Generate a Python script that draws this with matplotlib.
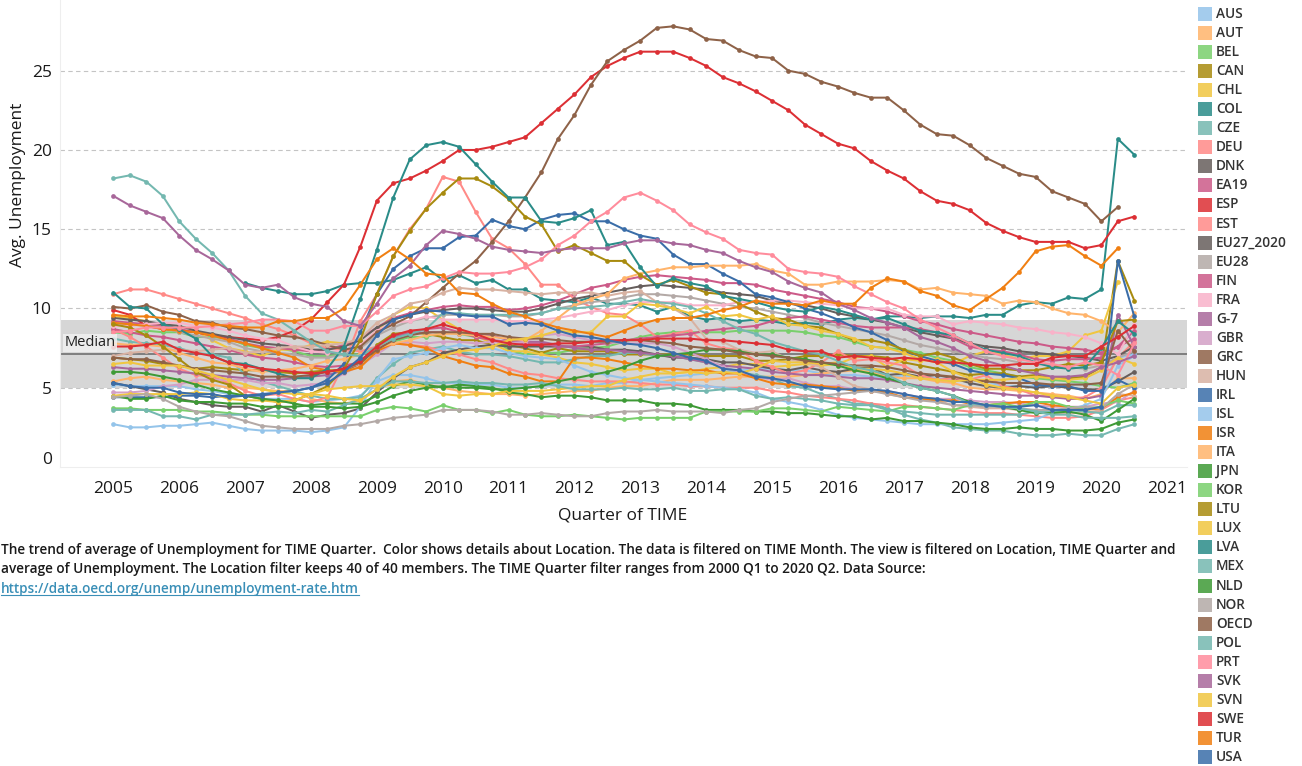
import numpy as np
import matplotlib
matplotlib.use("Agg")
import matplotlib.pyplot as plt
import matplotlib.transforms as mtransforms
from matplotlib.patches import Rectangle
from matplotlib.lines import Line2D

nan = float("nan")

# ---------------- data (quarterly, 2005 Q1 .. 2020 Q3) ----------------
years = list(range(2005, 2021))
quarter_index = [1, 2, 3, 4]
AUS = [5.2,5.1,5.1,5.1, 5.1,4.9,4.8,4.6, 4.5,4.3,4.3,4.3, 4.1,4.2,4.3,4.5, 5.4,5.8,5.8,5.6, 5.3,5.3,5.2,5.2,
       5.0,5.0,5.1,5.2, 5.2,5.1,5.3,5.3, 5.5,5.6,5.7,5.8, 5.9,6.0,6.1,6.2, 6.2,6.1,6.1,5.9, 5.8,5.8,5.7,5.6,
       5.8,5.6,5.6,5.5, 5.5,5.4,5.1,5.1, 5.1,5.2,5.2,5.2, 5.2,6.9,7.1]
AUT = [5.4,5.6,5.7,5.5, 5.4,5.3,5.2,5.0, 5.0,4.9,4.8,4.8, 4.3,4.1,4.0,4.2, 4.9,5.4,5.5,5.2, 5.0,4.8,4.7,4.6,
       4.6,4.5,4.6,4.7, 4.8,4.8,5.0,5.1, 5.1,5.3,5.5,5.5, 5.5,5.6,5.7,5.7, 5.7,5.7,5.8,5.9, 6.0,6.1,6.0,5.7,
       5.6,5.6,5.4,5.3, 5.0,4.9,4.9,4.8, 4.7,4.6,4.5,4.3, 4.6,5.6,5.6]
BEL = [8.5,8.4,8.6,8.5, 8.5,8.2,8.2,8.1, 7.7,7.5,7.5,7.3, 7.0,7.0,7.1,7.1, 7.5,7.9,8.2,8.2, 8.5,8.4,8.2,8.1,
       7.4,7.1,7.2,7.2, 7.4,7.5,7.6,7.9, 8.2,8.4,8.5,8.5, 8.5,8.5,8.6,8.6, 8.6,8.6,8.5,8.3, 8.2,7.9,7.6,7.5,
       7.4,7.2,6.9,6.7, 6.3,6.1,5.9,5.7, 5.6,5.5,5.4,5.3, 5.1,5.0,5.3]
CAN = [6.9,6.8,6.7,6.5, 6.4,6.2,6.3,6.2, 6.1,6.1,6.0,5.9, 6.0,6.1,6.1,6.4, 7.7,8.4,8.5,8.4, 8.2,8.0,8.0,7.7,
       7.7,7.5,7.2,7.5, 7.3,7.3,7.3,7.1, 7.1,7.1,7.1,7.1, 7.0,7.0,7.0,6.7, 6.7,6.8,7.0,7.0, 7.1,7.0,7.0,6.9,
       6.6,6.4,6.2,6.0, 5.8,5.9,5.9,5.7, 5.8,5.6,5.6,5.7, 6.3,13.0,10.5]
CHL = [9.5,9.4,9.2,8.9, 8.5,8.6,8.0,7.5, 7.3,7.0,7.4,7.4, 7.7,7.9,7.8,7.6, 8.6,9.6,10.1,10.0, 9.3,8.7,8.3,7.8,
       7.3,7.3,7.1,6.9, 6.6,6.5,6.3,6.1, 6.2,6.2,5.9,6.0, 6.2,6.3,6.5,6.5, 6.3,6.4,6.5,6.4, 6.5,6.9,7.0,6.3,
       6.8,6.7,6.8,6.5, 7.0,7.3,7.1,6.8, 7.0,7.0,7.3,8.3, 8.6,11.7,nan]
COL = [nan,nan,nan,nan, nan,nan,nan,nan, 11.6,11.3,11.1,10.9, 10.9,11.1,11.5,11.6, 11.6,11.8,12.2,12.6, 11.8,12.1,11.6,11.8,
       11.2,11.2,10.6,10.5, 10.4,10.7,10.3,10.3, 10.2,9.8,10.1,9.5, 9.3,9.4,9.2,9.3, 9.2,9.0,9.1,9.0, 9.3,9.4,9.3,9.5,
       9.5,9.4,9.5,9.5, 9.4,9.6,9.6,10.2, 10.4,10.3,10.7,10.6, 11.2,20.7,19.7]
CZE = [8.1,7.9,7.8,7.7, 7.5,7.2,7.1,6.9, 5.8,5.4,5.1,4.8, 4.5,4.3,4.3,4.4, 5.6,6.5,7.2,7.4, 7.6,7.3,7.1,7.1,
       7.0,6.8,6.6,6.6, 6.8,7.0,7.0,7.2, 7.2,7.0,7.0,6.8, 6.6,6.3,6.0,5.8, 5.6,5.1,5.0,4.6, 4.3,4.0,4.0,3.7,
       3.3,3.0,2.8,2.5, 2.4,2.3,2.3,2.1, 2.0,2.0,2.1,2.0, 2.0,2.4,2.7]
DEU = [10.9,11.2,11.2,10.9, 10.6,10.3,10.0,9.7, 9.4,9.0,8.7,8.3, 7.8,7.5,7.4,7.3, 7.6,7.8,7.7,7.6, 7.3,7.1,6.8,6.6,
       6.2,5.9,5.8,5.6, 5.5,5.4,5.4,5.4, 5.3,5.2,5.2,5.1, 5.1,5.0,5.0,5.0, 4.8,4.7,4.5,4.4, 4.3,4.2,4.0,3.9,
       3.9,3.8,3.7,3.6, 3.5,3.4,3.4,3.3, 3.2,3.1,3.1,3.2, 3.6,4.2,4.4]
DNK = [5.3,5.1,4.9,4.7, 4.3,4.1,3.9,3.8, 3.8,3.5,3.9,3.5, 3.1,3.3,3.4,3.7, 4.7,5.6,6.3,6.6, 7.2,7.4,7.6,7.7,
       7.6,7.6,7.6,7.6, 7.6,7.6,7.4,7.4, 7.3,7.1,6.9,6.9, 6.8,6.6,6.6,6.4, 6.2,6.1,6.3,6.1, 6.0,6.2,6.3,5.8,
       5.9,5.7,5.8,5.6, 5.3,5.1,5.0,5.1, 5.0,5.1,5.0,4.9, 4.9,5.4,6.0]
EA19 = [9.2,9.1,9.0,8.9, 8.7,8.5,8.3,8.1, 7.8,7.6,7.5,7.4, 7.3,7.4,7.7,8.1, 8.8,9.4,9.7,9.9, 10.1,10.2,10.1,10.1,
        9.9,10.0,10.2,10.5, 10.9,11.3,11.5,11.8, 12.0,12.1,12.0,11.9, 11.8,11.6,11.6,11.5, 11.2,11.0,10.8,10.6, 10.4,10.1,10.0,9.8,
        9.5,9.2,9.0,8.7, 8.5,8.3,8.1,7.9, 7.8,7.6,7.5,7.4, 7.2,7.6,8.6]
ESP = [9.9,9.6,8.9,8.7, 8.6,8.5,8.3,8.2, 8.1,8.0,8.2,8.6, 9.3,10.4,11.5,13.9, 16.8,17.9,18.2,18.7, 19.3,20.0,20.0,20.2,
       20.5,20.8,21.7,22.6, 23.5,24.6,25.3,25.8, 26.2,26.2,26.2,25.8, 25.3,24.6,24.2,23.7, 23.1,22.5,21.6,21.0, 20.4,20.1,19.3,18.7,
       18.2,17.4,16.8,16.6, 16.2,15.4,14.9,14.5, 14.2,14.2,14.2,13.8, 14.0,15.5,15.8]
EST = [8.7,8.2,7.6,6.9, 6.2,5.8,5.7,5.3, 4.8,4.5,4.6,4.3, 4.1,4.4,6.5,9.2, 10.9,13.3,15.0,16.3, 18.3,18.0,16.1,14.4,
       13.8,12.8,11.5,11.5, 10.6,10.1,9.7,9.6, 9.0,8.2,8.4,8.6, 7.8,7.5,7.4,6.7, 6.3,5.9,6.1,6.6, 7.3,6.7,6.8,6.6,
       6.4,5.8,5.5,5.6, 5.5,5.8,5.1,4.9, 4.5,4.5,4.3,4.4, 5.0,6.9,7.9]
EU27_2020 = [9.4,9.3,9.2,9.0, 8.9,8.6,8.4,8.2, 8.0,7.8,7.7,7.6, 7.4,7.4,7.6,8.0, 8.8,9.3,9.6,9.8, 9.9,10.0,10.0,9.9,
             9.8,9.8,10.0,10.3, 10.6,10.8,11.0,11.2, 11.4,11.5,11.4,11.3, 11.2,11.0,10.9,10.8, 10.5,10.3,10.2,10.0, 9.7,9.5,9.3,9.1,
             8.8,8.5,8.3,8.1, 7.8,7.6,7.5,7.3, 7.2,7.1,7.0,6.9, 6.7,7.0,7.6]
EU28 = [9.1,9.0,8.9,8.8, 8.5,8.3,8.1,7.9, 7.5,7.3,7.2,7.1, 6.9,6.9,7.1,7.5, 8.3,8.8,9.2,9.4, 9.6,9.6,9.6,9.6,
        9.5,9.5,9.7,10.0, 10.2,10.4,10.5,10.7, 10.9,10.9,10.8,10.7, 10.5,10.3,10.1,10.0, 9.8,9.6,9.4,9.1, 8.9,8.7,8.5,8.3,
        8.0,7.7,7.5,7.3, 7.1,6.9,6.8,6.6, 6.5,6.4,6.3,6.2, 6.4,6.9,7.3]
FIN = [8.7,8.5,8.3,8.2, 8.0,7.8,7.6,7.4, 7.1,6.9,6.8,6.6, 6.4,6.3,6.4,6.6, 7.6,8.2,8.5,8.7, 8.8,8.5,8.2,8.0,
       7.9,7.8,7.8,7.6, 7.6,7.7,7.8,8.0, 8.1,8.2,8.3,8.4, 8.6,8.7,8.8,8.9, 9.2,9.4,9.5,9.3, 9.1,8.9,8.8,8.8,
       8.8,8.7,8.5,8.1, 7.6,7.4,7.3,7.1, 6.8,6.7,6.8,6.8, 6.9,7.6,8.1]
FRA = [8.9,8.9,9.0,9.1, 9.1,8.9,8.8,8.6, 8.3,8.1,8.0,7.6, 7.3,7.2,7.4,7.7, 8.6,9.1,9.2,9.5, 9.3,9.3,9.3,9.3,
       9.2,9.2,9.3,9.4, 9.6,9.8,9.9,10.2, 10.4,10.4,10.4,10.2, 10.2,10.2,10.4,10.4, 10.5,10.5,10.4,10.3, 10.2,10.0,10.0,10.0,
       9.6,9.5,9.5,9.0, 9.2,9.1,9.0,8.8, 8.7,8.5,8.4,8.2, 7.8,7.1,9.0]
G7 = [6.3,6.2,6.2,6.1, 6.0,5.9,5.8,5.7, 5.6,5.5,5.5,5.6, 5.7,5.8,6.1,6.6, 7.6,8.2,8.4,8.5, 8.5,8.4,8.4,8.3,
      8.0,7.9,7.9,7.7, 7.5,7.4,7.4,7.3, 7.2,7.1,7.0,6.8, 6.6,6.4,6.3,6.2, 6.0,5.9,5.8,5.8, 5.7,5.6,5.6,5.5,
      5.3,5.1,5.0,4.9, 4.8,4.7,4.6,4.5, 4.5,4.4,4.3,4.3, 4.5,9.6,7.6]
GBR = [4.7,4.7,4.8,5.1, 5.2,5.5,5.5,5.5, 5.5,5.3,5.3,5.1, 5.2,5.3,5.9,6.4, 7.1,7.8,7.9,7.8, 7.9,7.9,7.8,7.9,
       7.8,7.9,8.3,8.4, 8.2,8.0,7.9,7.8, 7.8,7.8,7.6,7.2, 6.8,6.3,6.0,5.7, 5.5,5.6,5.3,5.1, 5.1,4.9,4.8,4.8,
       4.6,4.4,4.3,4.3, 4.2,4.1,4.1,4.0, 3.9,3.8,3.8,3.8, 4.0,4.1,4.8]
GRC = [10.1,10.0,10.2,9.8, 9.6,9.2,9.1,8.8, 8.7,8.5,8.3,8.2, 8.0,7.7,7.4,7.6, 8.5,9.0,9.5,10.4, 11.3,12.2,13.0,14.2,
       15.5,17.0,18.6,20.7, 22.2,24.1,25.6,26.3, 26.9,27.7,27.8,27.6, 27.0,26.9,26.3,25.9, 25.8,25.0,24.8,24.3, 24.0,23.6,23.3,23.3,
       22.5,21.6,21.0,20.9, 20.3,19.5,19.0,18.5, 18.3,17.4,17.0,16.6, 15.5,16.4,nan]
HUN = [7.0,7.2,7.3,7.4, 7.4,7.3,7.4,7.5, 7.2,7.3,7.5,7.6, 7.6,7.7,7.8,8.1, 9.1,9.6,10.3,10.5, 11.0,11.3,11.2,11.2,
       11.1,11.0,10.9,11.0, 11.0,11.0,10.8,11.0, 11.1,10.4,10.0,9.4, 8.1,7.9,7.4,7.2, 7.3,6.8,6.6,6.3, 5.7,5.1,4.9,4.6,
       4.4,4.3,4.2,3.9, 3.8,3.7,3.7,3.6, 3.5,3.4,3.4,3.4, 3.6,4.6,4.5]
IRL = [4.4,4.4,4.4,4.4, 4.5,4.5,4.4,4.5, 4.5,4.6,4.7,4.8, 5.0,5.5,6.5,8.5, 10.9,12.5,13.3,13.8, 13.8,14.5,14.6,15.6,
       15.2,15.0,15.6,15.9, 16.0,15.5,15.5,15.0, 14.6,14.4,13.4,12.8, 12.8,12.2,11.7,10.9, 10.7,10.4,10.0,9.7, 9.3,8.8,8.5,8.0,
       7.3,7.0,6.7,6.5, 6.1,5.9,5.8,5.6, 5.2,5.1,5.1,4.8, 4.8,5.5,5.0]
ISL = [2.7,2.5,2.5,2.6, 2.6,2.7,2.8,2.6, 2.4,2.3,2.3,2.3, 2.2,2.3,2.5,3.8, 5.5,6.8,7.0,7.2, 7.5,7.7,7.5,7.5,
       7.2,7.0,6.9,6.8, 6.4,6.0,5.8,5.6, 5.5,5.4,5.3,5.2, 5.1,5.0,4.9,4.7, 4.3,4.1,3.9,3.6, 3.3,3.1,3.0,2.9,
       2.8,2.7,2.7,2.7, 2.7,2.7,2.8,2.9, 3.0,3.4,3.6,3.9, 4.3,6.4,7.0]
ISR = [9.1,9.0,8.9,8.7, 8.6,8.5,8.3,8.0, 7.8,7.5,7.2,6.9, 6.3,6.1,6.0,6.3, 7.3,7.8,7.7,7.5, 7.0,6.7,6.4,6.3,
       5.9,5.7,5.4,5.4, 6.9,6.9,6.8,6.6, 6.4,6.2,6.2,6.1, 6.1,5.9,5.9,5.6, 5.3,5.2,5.2,5.1, 5.0,4.8,4.8,4.7,
       4.4,4.3,4.2,4.2, 4.0,3.9,4.0,4.1, 4.1,3.9,3.8,3.6, 3.7,4.4,4.7]
ITA = [7.8,7.7,7.7,7.6, 7.2,6.9,6.6,6.5, 6.2,6.0,6.1,6.2, 6.4,6.7,6.8,7.1, 7.5,7.8,8.0,8.3, 8.4,8.4,8.3,8.2,
       8.1,8.0,8.6,9.4, 10.2,10.6,10.9,11.9, 12.2,12.4,12.6,12.6, 12.7,12.7,12.7,12.8, 12.4,12.2,11.5,11.5, 11.7,11.7,11.7,11.8,
       11.7,11.2,11.3,11.0, 10.9,10.8,10.3,10.5, 10.4,10.0,9.7,9.6, 9.2,8.5,9.7]
JPN = [4.5,4.3,4.3,4.5, 4.2,4.1,4.1,4.0, 4.0,3.8,3.8,3.8, 3.9,4.0,4.0,4.0, 4.5,5.1,5.4,5.2, 5.0,5.2,5.1,5.0,
       4.7,4.6,4.4,4.5, 4.5,4.4,4.2,4.2, 4.2,4.0,4.0,3.9, 3.6,3.6,3.6,3.5, 3.5,3.4,3.4,3.3, 3.2,3.2,3.0,3.1,
       2.9,2.9,2.8,2.7, 2.5,2.4,2.4,2.5, 2.4,2.4,2.3,2.3, 2.4,2.8,3.0]
KOR = [3.7,3.7,3.6,3.6, 3.6,3.5,3.5,3.4, 3.3,3.3,3.2,3.2, 3.2,3.2,3.2,3.2, 3.6,3.8,3.7,3.5, 3.9,3.6,3.6,3.4,
       3.6,3.3,3.2,3.2, 3.3,3.2,3.1,3.0, 3.1,3.1,3.1,3.1, 3.5,3.5,3.5,3.5, 3.7,3.7,3.6,3.5, 3.8,3.7,3.6,3.5,
       3.8,3.8,3.7,3.6, 3.9,3.9,4.0,3.8, 4.1,4.1,3.8,3.7, 3.8,4.2,4.0]
LTU = [9.0,8.8,8.3,7.6, 6.8,6.0,5.5,5.2, 4.5,4.3,4.1,4.2, 4.6,5.1,6.2,8.0, 10.9,13.3,14.9,16.3, 17.3,18.2,18.2,17.7,
       16.9,15.8,15.3,13.6, 14.0,13.5,13.0,13.0, 12.1,11.5,11.8,11.4, 11.0,10.9,10.3,9.8, 9.4,9.3,8.9,8.8, 8.4,8.0,8.0,7.8,
       7.4,7.0,7.2,6.9, 6.5,6.2,6.2,6.1, 6.1,6.3,6.5,6.4, 6.6,9.2,9.3]
LUX = [4.5,4.6,4.6,4.6, 4.6,4.7,4.6,4.3, 4.2,4.2,4.1,4.2, 4.6,4.9,5.0,5.1, 5.1,5.2,5.2,5.1, 4.6,4.5,4.6,4.6,
       4.8,4.8,4.8,4.9, 5.0,5.1,5.1,5.5, 5.7,5.9,5.9,6.0, 5.9,6.0,5.9,6.2, 6.7,6.6,6.6,6.5, 6.6,6.2,6.2,6.1,
       5.9,5.6,5.5,5.4, 5.5,5.5,5.5,5.6, 5.7,5.6,5.5,5.6, 6.1,6.9,6.5]
LVA = [11.0,10.1,10.0,9.0, 8.7,8.1,7.0,6.6, 6.5,6.2,5.9,5.6, 5.6,6.2,7.6,10.6, 13.7,17.0,19.4,20.3, 20.5,20.2,19.1,18.0,
       17.0,17.0,15.5,15.4, 15.7,16.2,14.0,14.2, 12.6,11.4,11.9,11.6, 11.4,10.8,10.6,10.4, 10.1,9.9,9.8,10.1, 9.9,9.6,9.3,9.4,
       9.0,8.6,8.5,8.3, 7.8,7.4,7.2,7.0, 6.6,6.3,6.2,6.3, 7.5,9.2,8.4]
MEX = [3.6,3.6,3.6,3.2, 3.2,3.0,3.3,3.3, 3.3,3.4,3.5,3.4, 3.6,3.5,3.9,4.3, 4.9,5.4,5.4,5.3, 5.3,5.4,5.3,5.3,
       5.2,5.2,5.3,5.1, 4.9,4.9,4.9,5.0, 4.9,4.9,5.0,4.8, 4.8,4.9,4.9,4.5, 4.3,4.4,4.3,4.2, 4.0,3.9,3.9,3.6,
       3.5,3.4,3.3,3.3, 3.3,3.3,3.3,3.3, 3.5,3.5,3.6,3.5, 3.4,3.9,3.9]
NLD = [6.0,6.0,5.9,5.7, 5.5,5.2,4.9,4.7, 4.5,4.3,4.2,4.0, 3.8,3.8,3.7,3.8, 4.1,4.5,4.8,5.0, 5.1,5.0,5.0,4.9,
       4.9,5.0,5.1,5.4, 5.6,5.8,6.0,6.3, 6.7,7.0,7.1,7.2, 7.4,7.4,7.3,7.1, 7.1,6.9,6.8,6.6, 6.4,6.1,5.9,5.6,
       5.3,5.0,4.8,4.5, 4.1,3.9,3.8,3.6, 3.4,3.4,3.5,3.3, 2.9,3.6,4.3]
NOR = [4.4,4.5,4.6,4.3, 3.8,3.5,3.3,3.2, 2.9,2.6,2.5,2.4, 2.4,2.4,2.6,2.7, 2.9,3.1,3.2,3.3, 3.6,3.6,3.6,3.5,
       3.3,3.3,3.4,3.3, 3.2,3.2,3.4,3.5, 3.5,3.6,3.5,3.5, 3.5,3.4,3.6,3.7, 4.1,4.3,4.5,4.5, 4.6,4.7,4.8,4.6,
       4.4,4.2,4.1,3.9, 3.9,3.8,3.8,3.7, 3.6,3.6,3.7,3.8, 3.7,4.6,5.2]
OECD = [6.9,6.8,6.8,6.6, 6.4,6.2,6.1,6.0, 5.9,5.7,5.7,5.7, 5.8,6.0,6.2,6.6, 7.4,8.0,8.3,8.5, 8.5,8.5,8.4,8.4,
        8.2,8.1,8.1,8.0, 7.9,7.9,7.9,8.0, 8.0,7.9,7.8,7.6, 7.5,7.4,7.2,7.1, 7.0,6.9,6.7,6.6, 6.5,6.4,6.4,6.3,
        6.1,5.9,5.8,5.7, 5.5,5.4,5.3,5.3, 5.3,5.2,5.2,5.2, 5.3,8.6,7.3]
POL = [18.2,18.4,18.0,17.1, 15.5,14.4,13.5,12.4, 10.8,9.7,9.3,8.6, 7.9,7.3,7.1,7.0, 7.6,8.1,8.4,8.7, 9.7,9.7,9.6,9.6,
       9.6,9.6,9.7,10.0, 10.0,10.1,10.2,10.4, 10.6,10.4,10.3,10.1, 9.7,9.2,8.7,8.4, 7.9,7.6,7.3,7.1, 6.7,6.3,6.1,5.8,
       5.3,5.0,4.8,4.5, 4.0,3.9,3.8,3.7, 3.5,3.3,3.3,3.1, 3.1,3.1,3.2]
PRT = [8.5,8.6,8.8,8.8, 8.8,8.8,8.9,9.0, 9.1,9.3,9.3,9.2, 8.6,8.6,8.9,8.9, 9.8,10.8,11.2,11.4, 11.9,12.3,12.2,12.2,
       12.3,12.6,13.1,14.0, 14.6,15.5,16.1,17.0, 17.3,16.8,16.2,15.3, 14.8,14.4,13.7,13.5, 13.4,12.5,12.3,12.2, 12.0,11.4,10.9,10.4,
       10.0,9.3,8.8,8.3, 7.8,7.3,7.0,6.8, 6.6,6.5,6.3,6.6, 6.4,5.8,7.8]
SVK = [17.1,16.5,16.1,15.7, 14.6,13.7,13.1,12.4, 11.5,11.3,11.5,10.7, 10.3,10.1,9.2,8.9, 10.3,11.9,12.7,14.0, 14.9,14.7,14.4,13.9,
       13.7,13.6,13.5,13.7, 13.8,13.8,13.8,14.1, 14.3,14.3,14.1,14.0, 13.7,13.5,13.0,12.6, 12.3,11.7,11.3,11.0, 10.3,9.9,9.4,9.1,
       8.8,8.2,7.9,7.5, 7.0,6.7,6.4,6.1, 5.9,5.7,5.7,5.8, 6.3,6.6,7.0]
SVN = [6.5,6.6,6.4,6.4, 6.4,6.1,5.8,5.5, 5.2,4.9,4.7,4.6, 4.6,4.5,4.3,4.2, 4.9,5.7,6.3,6.6, 7.0,7.3,7.4,7.6,
       8.0,8.1,8.3,8.6, 8.5,8.5,9.5,9.5, 10.3,10.2,10.0,9.7, 10.1,9.5,9.6,9.3, 9.5,9.0,8.9,8.6, 8.4,8.1,7.6,7.5,
       7.2,6.8,6.6,6.0, 5.6,5.2,5.0,4.9, 4.7,4.5,4.4,4.2, 4.0,5.0,5.2]
SWE = [7.6,7.6,7.7,7.9, 7.4,7.2,7.0,6.6, 6.4,6.2,6.1,6.0, 5.9,6.0,6.2,6.7, 7.6,8.3,8.6,8.7, 9.0,8.7,8.4,8.0,
       7.8,7.7,7.7,7.8, 7.8,7.9,8.0,8.0, 8.0,8.1,8.1,8.1, 8.0,8.0,7.9,7.8, 7.7,7.4,7.3,7.3, 6.9,7.0,6.9,6.8,
       6.9,6.8,6.6,6.6, 6.5,6.4,6.4,6.5, 6.5,6.9,7.0,7.0, 7.6,8.2,8.9]
TUR = [9.6,9.5,9.5,9.4, 9.3,9.1,9.0,8.9, 8.8,8.8,9.2,9.2, 9.4,9.4,10.0,11.5, 13.1,13.8,13.1,12.2, 12.1,11.0,10.9,10.3,
       9.8,9.5,9.1,8.8, 8.6,8.4,8.2,8.6, 9.0,9.3,9.4,9.4, 9.6,9.9,10.1,10.5, 10.3,10.3,10.2,10.5, 10.3,10.3,11.3,11.9,
       11.7,11.1,10.8,10.2, 9.9,10.6,11.3,12.3, 13.6,13.9,14.0,13.3, 12.7,13.8,nan]
USA = [5.3,5.1,5.0,5.0, 4.7,4.6,4.6,4.4, 4.5,4.5,4.7,4.8, 5.0,5.3,6.0,6.9, 8.3,9.3,9.6,9.9, 9.8,9.6,9.5,9.5,
       9.0,9.1,9.0,8.6, 8.3,8.2,8.0,7.8, 7.7,7.5,7.2,6.9, 6.7,6.2,6.1,5.7, 5.6,5.4,5.1,5.0, 4.9,4.9,4.9,4.8,
       4.6,4.4,4.3,4.1, 4.1,3.9,3.8,3.8, 3.9,3.6,3.6,3.6, 3.8,13.0,9.5]

locations = ["AUS","AUT","BEL","CAN","CHL","COL","CZE","DEU","DNK","EA19","ESP","EST","EU27_2020","EU28",
             "FIN","FRA","G-7","GBR","GRC","HUN","IRL","ISL","ISR","ITA","JPN","KOR","LTU","LUX","LVA","MEX",
             "NLD","NOR","OECD","POL","PRT","SVK","SVN","SWE","TUR","USA"]
series = [AUS,AUT,BEL,CAN,CHL,COL,CZE,DEU,DNK,EA19,ESP,EST,EU27_2020,EU28,FIN,FRA,G7,GBR,GRC,HUN,IRL,ISL,
          ISR,ITA,JPN,KOR,LTU,LUX,LVA,MEX,NLD,NOR,OECD,POL,PRT,SVK,SVN,SWE,TUR,USA]

median_value = 7.1
band_low, band_high = 5.0, 9.26
year_ticks = list(range(2005, 2022))
y_ticks = [0, 5, 10, 15, 20, 25]

# ---------------- colours ----------------
C = dict(blue="#3A6DA8", lblue="#94C4EA", orange="#F07F12", lorange="#FFB46B", green="#3E9A36",
         lgreen="#79CF6C", olive="#A88B0F", yellow="#F0C640", teal="#2A8C88", lteal="#74B8B0",
         red="#DC2F34", lred="#FF8A87", gray="#665E5C", lgray="#B3A9A6", pink="#CC5A88",
         lpink="#F9B2C9", purple="#A8679A", lpurple="#D3A0C6", brown="#8E6248", lbrown="#D8B2A2")
color_keys = ["lblue","lorange","lgreen","olive","yellow","teal","lteal","lred","gray","pink","red","lred",
              "gray","lgray","pink","lpink","purple","lpurple","brown","lbrown","blue","lblue","orange","lorange",
              "green","lgreen","olive","yellow","teal","lteal","green","lgray","brown","lteal","lred","purple",
              "yellow","red","orange","blue"]
colors = [C[k] for k in color_keys]
colors[34] = "#FF8C9C"  # PRT slightly pinker

# ---------------- figure ----------------
plt.rcParams["font.family"] = ["Open Sans", "DejaVu Sans"]
W, H = 1302, 766
fig = plt.figure(figsize=(W / 100, H / 100), dpi=100)
ax = fig.add_axes([60 / W, 1 - 467 / H, (1187 - 60) / W, 467 / H])

t = [y + (q - 1) * 0.25 for y in years for q in quarter_index][:63]

ax.axhspan(band_low, band_high, color="#d6d6d6", zorder=0, lw=0)
for yv in [5, 10, 15, 20, 25]:
    ax.axhline(yv, color="#c4c4c4", lw=0.8, ls=(0, (4, 3)), zorder=0.5)
ax.axhline(median_value, color="#777777", lw=1.3, zorder=1)

for vals, col in zip(series, colors):
    ax.plot(t, vals, color=col, lw=1.45, marker="o", ms=3.4, mew=0, zorder=2,
            solid_joinstyle="round")

ax.text(0.004, median_value + 0.25, "Median", transform=ax.get_yaxis_transform(),
        fontsize=10.5, color="#222222", va="bottom", ha="left", zorder=3,
        bbox=dict(boxstyle="square,pad=0.12", fc="#f0f0f0", ec="none", alpha=0.85))

ax.set_xlim(2004.19, 2021.30)
ax.set_ylim(0, 29.46)
ax.set_xticks(year_ticks)
ax.set_xticklabels([str(y) for y in year_ticks], fontsize=12.5, color="#1a1a1a")
ax.set_yticks(y_ticks)
ax.set_yticklabels([str(v) for v in y_ticks], fontsize=12.5, color="#1a1a1a")
ax.tick_params(axis="both", length=0)
ax.tick_params(axis="x", pad=10)
ax.tick_params(axis="y", pad=6)
# Tableau keeps the bottom axis label inside the pane
zero_lab = ax.get_yticklabels()[0]
zero_lab.set_transform(zero_lab.get_transform() +
                       mtransforms.ScaledTranslation(0, 9 / 100, fig.dpi_scale_trans))
for s in ["top", "right"]:
    ax.spines[s].set_visible(False)
for s in ["left", "bottom"]:
    ax.spines[s].set_color("#eeeeee")
    ax.spines[s].set_linewidth(0.8)

fig.text(18 / W, 1 - 185 / H, "Avg. Unemployment", rotation=90, fontsize=12.5,
         color="#1a1a1a", ha="center", va="center")
fig.text(623 / W, 1 - 515 / H, "Quarter of TIME", fontsize=12.5, color="#1a1a1a",
         ha="center", va="center")

cap1 = ("The trend of average of Unemployment for TIME Quarter.  Color shows details about Location. "
        "The data is filtered on TIME Month. The view is filtered on Location, TIME Quarter and")
cap2 = ("average of Unemployment. The Location filter keeps 40 of 40 members. The TIME Quarter filter "
        "ranges from 2000 Q1 to 2020 Q2. Data Source:")
link = "https://data.oecd.org/unemp/unemployment-rate.htm"
capkw = dict(fontsize=9.8, fontweight="semibold", va="center", ha="left")
fig.text(1 / W, 1 - 550 / H, cap1, color="#1a1a1a", **capkw)
fig.text(1 / W, 1 - 569.5 / H, cap2, color="#1a1a1a", **capkw)
lt = fig.text(1 / W, 1 - 589 / H, link, color="#3A8FB7", **capkw)

# legend
for i, (name, col) in enumerate(zip(locations, colors)):
    yc = 14 + i * 19.05
    fig.patches.append(Rectangle((1198 / W, 1 - (yc + 7) / H), 14 / W, 14 / H,
                                 transform=fig.transFigure, fc=col, ec="none", alpha=0.85))
    fig.text(1216 / W, 1 - yc / H, name, fontsize=9.8, fontweight="semibold",
             color="#333333", va="center", ha="left")

fig.canvas.draw()
bb = lt.get_window_extent()
yline = bb.y0 + 1
fig.lines.append(Line2D([bb.x0 / W, bb.x1 / W], [yline / H, yline / H],
                        transform=fig.transFigure, color="#3A8FB7", lw=0.8))

fig.savefig("out.png", dpi=100)
